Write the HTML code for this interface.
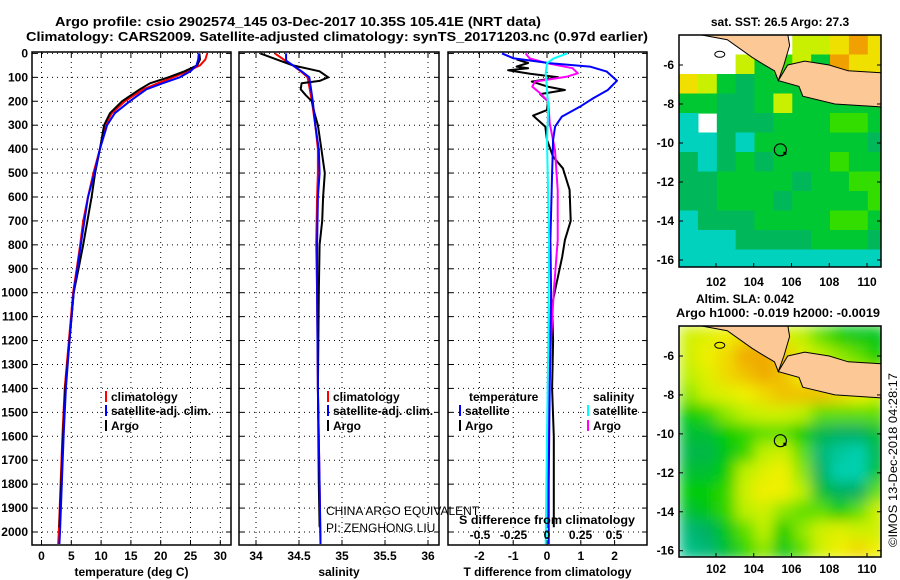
<!DOCTYPE html>
<html><head><meta charset="utf-8">
<style>
body{margin:0;background:#fff;width:900px;height:580px;overflow:hidden}
svg{display:block;font-family:"Liberation Sans",Arial,sans-serif}
</style></head><body>
<svg id="c" width="900" height="580"></svg>
<script>
// ---------- profile data ----------
const tDepths=[0,25,50,75,100,125,150,200,250,300,400,500,600,700,800,900,1000,1200,1400,1600,1800,2000,2050];
const tempClim=[27.8,27.5,26.6,24.5,22.1,19.5,17.1,14.0,11.8,10.7,9.8,8.7,7.8,7.0,6.5,5.9,5.3,4.6,3.9,3.5,3.2,2.9,2.8];
const tempSat=[26.4,26.3,26.0,25.0,23.2,20.3,17.6,14.8,12.3,11.0,9.8,8.9,7.8,7.2,6.6,6.0,5.4,4.7,4.1,3.7,3.4,3.1,3.0];
const argoDepths=[0,25,50,75,100,125,150,200,250,300,400,500,600,700,800,900,1000,1200,1400,1600,1800,1980];
const tempArgo=[26.5,26.6,26.1,24.0,21.3,18.2,16.5,13.5,11.5,10.5,9.8,9.0,8.4,7.7,7.0,6.2,5.4,4.7,4.0,3.6,3.3,3.0];

const sDepths=[0,30,50,75,100,200,300,400,500,600,800,1000,1400,1800,2050];
const salClim=[34.22,34.34,34.43,34.52,34.6,34.65,34.69,34.72,34.72,34.71,34.7,34.71,34.72,34.74,34.75];
const salSat=[34.35,34.35,34.43,34.53,34.62,34.66,34.69,34.73,34.74,34.72,34.71,34.71,34.72,34.74,34.75];
const sArgoDepths=[0,25,50,75,100,115,125,150,175,200,250,300,400,500,600,700,800,1000,1400,1800,1980];
const salArgo=[34.05,34.24,34.43,34.74,34.84,34.74,34.53,34.52,34.58,34.65,34.68,34.72,34.76,34.8,34.78,34.77,34.74,34.73,34.72,34.73,34.74];

const dtSatDepths=[0,20,41,55,76,114,153,188,223,264,306,362,500,780,1000,1400,1800,2050];
const dtSat=[-1.33,-1.0,0.1,1.27,1.77,2.07,1.8,1.36,0.97,0.44,0.24,0.18,0.15,0.1,0.12,0.08,0.05,0.05];
const dtArgoDepths=[25,40,55,62,70,85,100,118,140,153,170,200,237,260,306,362,432,480,570,700,780,850,950,1050,1200,1400,1600,1800,1980];
const dtArgo=[-0.9,-0.56,-0.9,-0.56,-1.15,-0.5,0.33,-0.45,0.05,0.53,-0.2,0.03,0.0,-0.41,-0.05,0.0,0.18,0.47,0.67,0.7,0.53,0.45,0.3,0.15,0.18,0.15,0.2,0.2,0.2];
const dsArgoDepths=[0,21,41,62,83,97,118,139,167,202,292,404,571,780,1000,1200,1500,1980];
const dsArgo=[-0.16,-0.13,0,0.19,0.23,0.15,-0.09,-0.11,-0.05,0.01,0.02,0.06,0.08,0.08,0.05,0.03,0.01,0.0];
const dsSatDepths=[0,21,41,83,153,223,362,780,1200,1600,2050];
const dsSat=[0.15,0.05,0,-0.01,0,0.01,0.0,0.015,0.01,0.0,-0.01];

const depthTicks=[0,100,200,300,400,500,600,700,800,900,1000,1100,1200,1300,1400,1500,1600,1700,1800,1900,2000];
const tempTicks=[0,5,10,15,20,25,30];
const salTicks=[34,34.5,35,35.5,36];
const salTickLabels=["34","34.5","35","35.5","36"];
const dtTicks=[-2,-1,0,1,2];
const dsTicks=[-0.5,-0.25,0,0.25,0.5];
const dsTickLabels=["-0.5","-0.25","0","0.25","0.5"];

// ---------- map data ----------
const lonTicks=[102,104,106,108,110];
const latTicks=[-6,-8,-10,-12,-14,-16];
const sstGrid=[
[null,null,null,null,null,null,27.1,27.2,27.5,27.8,27.5],
[null,null,null,27.1,26.6,26.7,27.0,26.6,27.7,27.4,27.4],
[27.4,27.0,26.5,26.1,26.4,26.4,26.5,26.5,27.4,27.4,27.2],
[26.5,26.4,26.1,26.0,26.4,27.0,26.5,26.4,26.5,26.6,26.5],
[25.7,null,26.0,25.9,26.2,26.4,26.4,26.6,26.7,26.7,26.5],
[25.7,25.7,25.9,25.8,26.3,26.3,26.4,26.3,26.5,26.4,26.2],
[26.0,25.8,26.2,26.3,26.2,26.3,26.3,26.3,26.9,26.4,26.4],
[26.1,26.0,26.3,26.3,26.3,26.3,26.2,26.4,26.5,26.9,26.9],
[26.0,26.1,26.4,26.3,26.4,26.2,26.3,26.5,26.4,26.6,26.7],
[25.8,25.9,26.2,26.2,26.3,26.3,26.4,26.6,26.7,26.8,26.6],
[25.6,25.7,25.8,26.1,26.1,26.2,26.2,26.3,26.3,26.3,26.2],
[25.5,25.7,25.7,25.6,25.7,25.7,25.7,25.8,25.7,25.8,25.8]];
const slaGrid=[
[0.05,0.06,0.07,0.08,0.09,0.06,0.04,0.02,0.0,-0.01,-0.01],
[0.05,0.07,0.08,0.1,0.1,0.09,0.06,0.04,0.03,0.02,0.0],
[0.04,0.06,0.08,0.09,0.1,0.09,0.07,0.06,0.05,0.04,0.03],
[0.03,0.05,0.06,0.07,0.08,0.09,0.09,0.09,0.08,0.07,0.05],
[0.0,0.01,0.03,0.04,0.05,0.05,0.04,0.02,0.02,0.02,0.02],
[-0.02,-0.02,0.0,0.01,0.02,0.02,0.0,-0.03,-0.04,-0.04,-0.02],
[-0.03,-0.03,-0.01,0.01,0.04,0.05,0.02,-0.05,-0.07,-0.08,-0.03],
[-0.02,-0.02,0.0,0.04,0.06,0.07,0.03,-0.04,-0.08,-0.08,-0.02],
[0.0,0.0,0.01,0.05,0.07,0.07,0.04,-0.02,-0.04,-0.04,0.02],
[-0.02,-0.01,0.01,0.04,0.05,0.03,0.02,0.02,0.0,0.02,0.05],
[-0.05,-0.04,-0.01,0.02,0.04,0.0,0.03,0.05,0.06,0.05,0.05],
[-0.06,-0.05,-0.02,0.01,0.03,-0.01,0.02,0.05,0.07,0.08,0.07]];
const sumatraLon=[100.9,102.6,103.9,104.4,105.1,105.3,105.6,105.9,105.8];
const sumatraLat=[-4.4,-4.7,-5.6,-5.9,-6.3,-6.8,-6.0,-5.0,-4.4];
const javaLon=[105.8,106.7,108.0,109.0,110.8,110.8,108.3,106.6,106.4,105.3];
const javaLat=[-6.0,-5.8,-6.0,-6.3,-6.4,-8.15,-8.0,-7.6,-7.1,-6.8];
const argoLon=105.41, argoLat=-10.35;

// ---------- helpers ----------
const NS='http://www.w3.org/2000/svg';
const svg=document.getElementById('c');
function mk(tag,attrs,parent){const e=document.createElementNS(NS,tag);for(const k in attrs)e.setAttribute(k,attrs[k]);(parent||svg).appendChild(e);return e;}
function tx(x,y,s,attrs,parent){const e=mk('text',Object.assign({x:x,y:y,'font-size':12,'font-weight':'bold'},attrs||{}),parent);e.textContent=s;return e;}

const PT=52, PB=545;
const yD=d=>53.4+d*0.2393;
const xT=t=>41.5+t*5.96;
const xS=s=>256+(s-34)*86;
const xDT=v=>547+v*33.8;
const xDS=v=>547+v*134;
const panels=[{x0:32,x1:231,name:'temperature-panel',ticks:tempTicks,fx:xT,labels:tempTicks.map(String),title:'temperature (deg C)'},
{x0:239,x1:439,name:'salinity-panel',ticks:salTicks,fx:xS,labels:salTickLabels,title:'salinity'},
{x0:448,x1:647,name:'difference-panel',ticks:dtTicks,fx:xDT,labels:dtTicks.map(String),title:'T difference from climatology'}];

// titles
let e=tx(55,26,'Argo profile: csio 2902574_145 03-Dec-2017 10.35S 105.41E (NRT data)',{textLength:486,lengthAdjust:'spacingAndGlyphs','font-size':13});


e=tx(26,41,'Climatology: CARS2009. Satellite-adjusted climatology: synTS_20171203.nc (0.97d earlier)',{textLength:622,lengthAdjust:'spacingAndGlyphs','font-size':13});



// depth labels
depthTicks.forEach(d=>{
  const t=tx(28,yD(d)+4,String(d),{'text-anchor':'end'});
  
  
});

panels.forEach(p=>{
  const g=mk('g',{});
  
  
  depthTicks.forEach(d=>{
    const l=mk('line',{x1:p.x0,x2:p.x1,y1:yD(d),y2:yD(d),stroke:'#000','stroke-width':1,'stroke-dasharray':'1,4'},g);
    
    const a=mk('line',{x1:p.x0,x2:p.x0+5,y1:yD(d),y2:yD(d),stroke:'#000'},g);
    
    const b=mk('line',{x1:p.x1-5,x2:p.x1,y1:yD(d),y2:yD(d),stroke:'#000'},g);
    
  });
  p.ticks.forEach((v,i)=>{
    const x=p.fx(v);
    const l=mk('line',{x1:x,x2:x,y1:PT,y2:PB,stroke:'#000','stroke-width':1,'stroke-dasharray':'1,4'},g);
    
    const a=mk('line',{x1:x,x2:x,y1:PB-5,y2:PB,stroke:'#000'},g);
    
    const b=mk('line',{x1:x,x2:x,y1:PT,y2:PT+5,stroke:'#000'},g);
    
    const t=tx(x,560,p.labels[i],{'text-anchor':'middle'});
    
    
  });
  const r=mk('rect',{x:p.x0,y:PT,width:p.x1-p.x0,height:PB-PT,fill:'none',stroke:'#000','stroke-width':1.5},g);
  
  const t=tx((p.x0+p.x1)/2,576,p.title,{'text-anchor':'middle'});
  
  
});

function line(depths,vals,fx,color,name){
  const pts=depths.map((d,i)=>fx(vals[i]).toFixed(1)+','+yD(d).toFixed(1)).join(' ');
  const l=mk('polyline',{points:pts,fill:'none',stroke:color,'stroke-width':2,'stroke-linejoin':'round'});
  
  
}
line(tDepths,tempClim,xT,'#ff0000','temperature-climatology-line');
line(argoDepths,tempArgo,xT,'#000000','temperature-argo-line');
line(tDepths,tempSat,xT,'#0000ff','temperature-satellite-line');
line(sDepths,salClim,xS,'#ff0000','salinity-climatology-line');
line(sArgoDepths,salArgo,xS,'#000000','salinity-argo-line');
line(sDepths,salSat,xS,'#0000ff','salinity-satellite-line');
line(dtArgoDepths,dtArgo,xDT,'#000000','t-diff-argo-line');
line(dsArgoDepths,dsArgo,xDS,'#ff00ff','s-diff-argo-line');
line(dtSatDepths,dtSat,xDT,'#0000ff','t-diff-satellite-line');
line(dsSatDepths,dsSat,xDS,'#00ffff','s-diff-satellite-line');

function legend(x,y,color,label){
  if(color){const b=mk('rect',{x:x,y:y-10,width:2,height:11,fill:color});
  }
  const t=tx(x+(color?6:0),y,label,{});
  
  
}
legend(105,401,'#ff0000','climatology');
legend(105,415,'#0000ff','satellite-adj. clim.');
legend(105,430,'#000000','Argo');
legend(327,401,'#ff0000','climatology');
legend(327,415,'#0000ff','satellite-adj. clim.');
legend(327,430,'#000000','Argo');
legend(469,401,null,'temperature');
legend(459,415,'#0000ff','satellite');
legend(459,430,'#000000','Argo');
legend(593,401,null,'salinity');
legend(587,415,'#00ffff','satellite');
legend(587,430,'#ff00ff','Argo');

e=tx(326,515,'CHINA ARGO EQUIVALENT',{'font-weight':'normal'});


e=tx(326,532,'PI: ZENGHONG LIU',{'font-weight':'normal'});


e=tx(459,524,'S difference from climatology',{textLength:176,lengthAdjust:'spacingAndGlyphs'});


dsTicks.forEach((v,i)=>{
  const t=tx(xDS(v),539,dsTickLabels[i],{'text-anchor':'middle'});
  
  
});

// ---------- maps ----------
function sstColor(v){
  if(v<25.3)return '#0000ee'; if(v<25.85)return '#00d2be'; if(v<26.25)return '#00b85a';
  if(v<26.65)return '#00c832'; if(v<27.0)return '#33dd00'; if(v<27.35)return '#c8f000';
  if(v<27.7)return '#f0e000'; return '#f0a000';
}
const slaStops=[[-0.08,[0,208,176]],[-0.04,[0,176,96]],[0,[0,205,0]],[0.04,[190,240,0]],[0.07,[240,240,0]],[0.1,[240,170,0]]];
function slaColor(v){
  if(v<=slaStops[0][0])return 'rgb('+slaStops[0][1]+')';
  for(let i=1;i<slaStops.length;i++){if(v<=slaStops[i][0]){const a=slaStops[i-1],b=slaStops[i],f=(v-a[0])/(b[0]-a[0]);
    return 'rgb('+a[1].map((c,k)=>Math.round(c+(b[1][k]-c)*f)).join(',')+')';}}
  return 'rgb('+slaStops[slaStops.length-1][1]+')';
}
const defs=mk('defs',{});
const f=mk('filter',{id:'blur',x:'-10%',y:'-10%',width:'120%',height:'120%'},defs);
mk('feGaussianBlur',{stdDeviation:7,edgeMode:'duplicate'},f);

function drawMap(m){
  const X=lon=>m.x0+(lon-100.04)*18.875;
  const Y=lat=>m.y6+(-6-lat)*m.sy;
  const cp=mk('clipPath',{id:m.id+'clip'},defs);
  mk('rect',{x:m.x0,y:m.y0,width:m.x1-m.x0,height:m.y1-m.y0},cp);
  const g=mk('g',{'clip-path':'url(#'+m.id+'clip)'});
  
  
  const cells=mk('g',m.blur?{filter:'url(#blur)'}:{},g);
  m.grid.forEach((row,r)=>row.forEach((v,c)=>{
    if(v===null)return;
    const x=X(100.04+c), y=Y(-4.46-r);
    const cell=mk('rect',{x:x.toFixed(1),y:y.toFixed(1),width:(18.875+0.6).toFixed(1),height:(m.sy+0.6).toFixed(1),fill:m.color(v)},cells);
    
  }));
  [[sumatraLon,sumatraLat,'sumatra-land'],[javaLon,javaLat,'java-land']].forEach(L=>{
    const p=mk('polygon',{points:L[0].map((lo,i)=>X(lo).toFixed(1)+','+Y(L[1][i]).toFixed(1)).join(' '),fill:'#fcc896',stroke:'#000','stroke-width':1},g);
    
  });
  const isl=mk('ellipse',{cx:X(102.2),cy:Y(-5.45),rx:5,ry:3,fill:'none',stroke:'#000','stroke-width':1},g);
  
  const mark=mk('circle',{cx:X(argoLon),cy:Y(argoLat),r:6,fill:'none',stroke:'#000','stroke-width':1.2},g);
  
  const dot=mk('rect',{x:X(argoLon)+3,y:Y(argoLat)+2,width:3,height:3,fill:'#000'},g);
  
  const fr=mk('rect',{x:m.x0,y:m.y0,width:m.x1-m.x0,height:m.y1-m.y0,fill:'none',stroke:'#000','stroke-width':1.5});
  
  lonTicks.forEach(lo=>{
    const a=mk('line',{x1:X(lo),x2:X(lo),y1:m.y1-4,y2:m.y1,stroke:'#000'});
    
    const t=tx(X(lo),m.ly,String(lo),{'text-anchor':'middle'});
    
    
  });
  latTicks.forEach(la=>{
    const a=mk('line',{x1:m.x0,x2:m.x0+4,y1:Y(la),y2:Y(la),stroke:'#000'});
    
    const b=mk('line',{x1:m.x1-4,x2:m.x1,y1:Y(la),y2:Y(la),stroke:'#000'});
    
    const t=tx(674,Y(la)+4,String(la),{'text-anchor':'end'});
    
    
  });
}
drawMap({id:'sst',name:'sst-map',x0:679,x1:881,y0:35,y1:267,y6:65,sy:19.5,ly:286,grid:sstGrid,color:sstColor,blur:false});
drawMap({id:'sla',name:'sla-map',x0:679,x1:881,y0:326,y1:557,y6:356,sy:19.47,ly:573,grid:slaGrid,color:slaColor,blur:true});

e=tx(780,26,'sat. SST: 26.5 Argo: 27.3',{'text-anchor':'middle'});


e=tx(745,303,'Altim. SLA: 0.042',{'text-anchor':'middle'});


e=tx(778,317,'Argo h1000: -0.019 h2000: -0.0019',{'text-anchor':'middle',textLength:204,lengthAdjust:'spacingAndGlyphs'});


e=tx(897,460,'©IMOS 13-Dec-2018 04:28:17',{'text-anchor':'middle','font-weight':'normal',transform:'rotate(-90 897 460)',textLength:174,lengthAdjust:'spacingAndGlyphs'});


</script>
</body></html>
